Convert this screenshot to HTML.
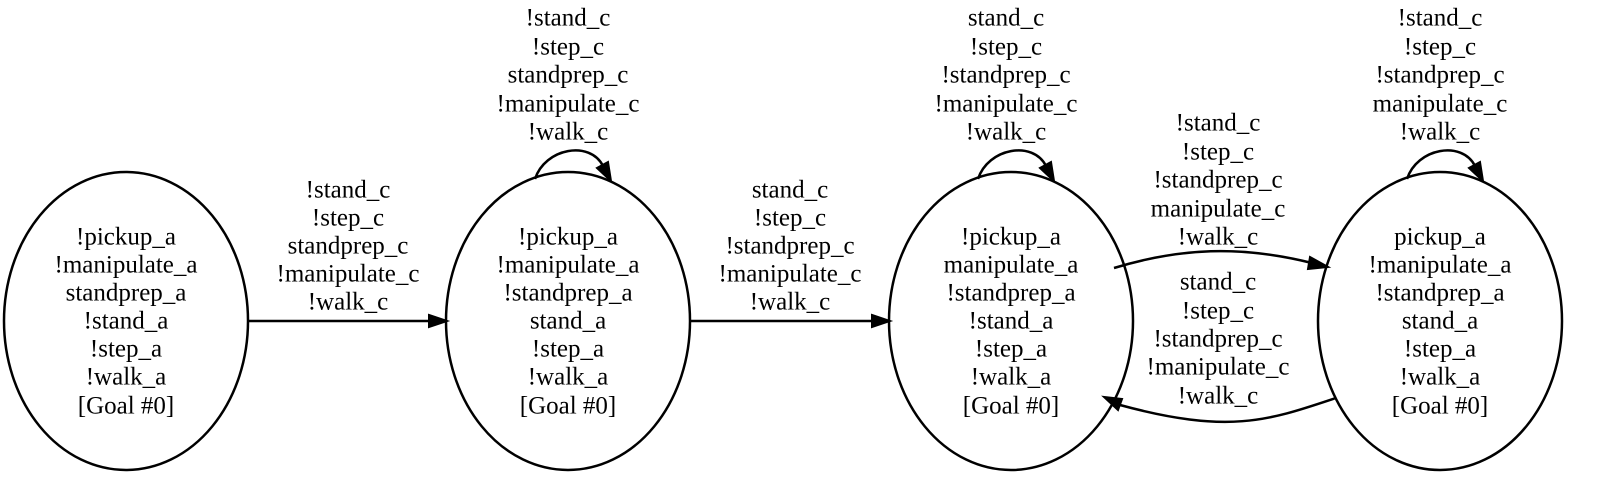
<!DOCTYPE html>
<html><head><meta charset="utf-8"><style>
html,body{margin:0;padding:0;background:#fff;}
svg text{font-family:"Liberation Serif",serif;font-size:25px;fill:#000;text-anchor:middle;dominant-baseline:central;}
</style></head><body>
<svg width="1597" height="485" viewBox="0 0 1597 485" xmlns="http://www.w3.org/2000/svg">
<g fill="none" stroke="#000" stroke-width="2.5">
<ellipse cx="126" cy="321" rx="122" ry="149"/>
<ellipse cx="568" cy="321" rx="122" ry="149"/>
<ellipse cx="1011" cy="321" rx="122" ry="149"/>
<ellipse cx="1440" cy="321" rx="122" ry="149"/>
<path d="M248 321 L430 321"/>
<path d="M690 321 L872 321"/>
<path d="M535 179 C545 148 590 140 603 166"/>
<path d="M978 179 C988 148 1033 140 1046 166"/>
<path d="M1407 179 C1417 148 1462 140 1475 166"/>
<path d="M1114 268 C1180 248 1240 245 1312 263"/>
<path d="M1336 398 C1270 420 1230 435 1120 405"/>
</g>
<g fill="#000" stroke="#000" stroke-width="2">
<polygon points="429,315 447,321 429,327"/>
<polygon points="872,315 890,321 872,327"/>
<polygon points="597,168 611,181 608,162"/>
<polygon points="1040,168 1054,181 1051,162"/>
<polygon points="1469,168 1483,181 1480,162"/>
<polygon points="1310,257 1328,267 1308,269"/>
<polygon points="1122,399 1104,397 1118,410"/>
</g>
<g>
<text x="126" y="237">!pickup_a</text><text x="126" y="265">!manipulate_a</text><text x="126" y="293">standprep_a</text><text x="126" y="321">!stand_a</text><text x="126" y="349">!step_a</text><text x="126" y="377">!walk_a</text><text x="126" y="406">[Goal #0]</text>
<text x="568" y="237">!pickup_a</text><text x="568" y="265">!manipulate_a</text><text x="568" y="293">!standprep_a</text><text x="568" y="321">stand_a</text><text x="568" y="349">!step_a</text><text x="568" y="377">!walk_a</text><text x="568" y="406">[Goal #0]</text>
<text x="1011" y="237">!pickup_a</text><text x="1011" y="265">manipulate_a</text><text x="1011" y="293">!standprep_a</text><text x="1011" y="321">!stand_a</text><text x="1011" y="349">!step_a</text><text x="1011" y="377">!walk_a</text><text x="1011" y="406">[Goal #0]</text>
<text x="1440" y="237">pickup_a</text><text x="1440" y="265">!manipulate_a</text><text x="1440" y="293">!standprep_a</text><text x="1440" y="321">stand_a</text><text x="1440" y="349">!step_a</text><text x="1440" y="377">!walk_a</text><text x="1440" y="406">[Goal #0]</text>

<text x="348" y="190">!stand_c</text><text x="348" y="218">!step_c</text><text x="348" y="246">standprep_c</text><text x="348" y="274">!manipulate_c</text><text x="348" y="302">!walk_c</text>
<text x="790" y="190">stand_c</text><text x="790" y="218">!step_c</text><text x="790" y="246">!standprep_c</text><text x="790" y="274">!manipulate_c</text><text x="790" y="302">!walk_c</text>

<text x="568" y="18">!stand_c</text><text x="568" y="47">!step_c</text><text x="568" y="75">standprep_c</text><text x="568" y="104">!manipulate_c</text><text x="568" y="132">!walk_c</text>
<text x="1006" y="18">stand_c</text><text x="1006" y="47">!step_c</text><text x="1006" y="75">!standprep_c</text><text x="1006" y="104">!manipulate_c</text><text x="1006" y="132">!walk_c</text>
<text x="1440" y="18">!stand_c</text><text x="1440" y="47">!step_c</text><text x="1440" y="75">!standprep_c</text><text x="1440" y="104">manipulate_c</text><text x="1440" y="132">!walk_c</text>

<text x="1218" y="123">!stand_c</text><text x="1218" y="152">!step_c</text><text x="1218" y="180">!standprep_c</text><text x="1218" y="209">manipulate_c</text><text x="1218" y="237">!walk_c</text>
<text x="1218" y="282">stand_c</text><text x="1218" y="311">!step_c</text><text x="1218" y="339">!standprep_c</text><text x="1218" y="367">!manipulate_c</text><text x="1218" y="396">!walk_c</text>
</g>
</svg>
</body></html>
